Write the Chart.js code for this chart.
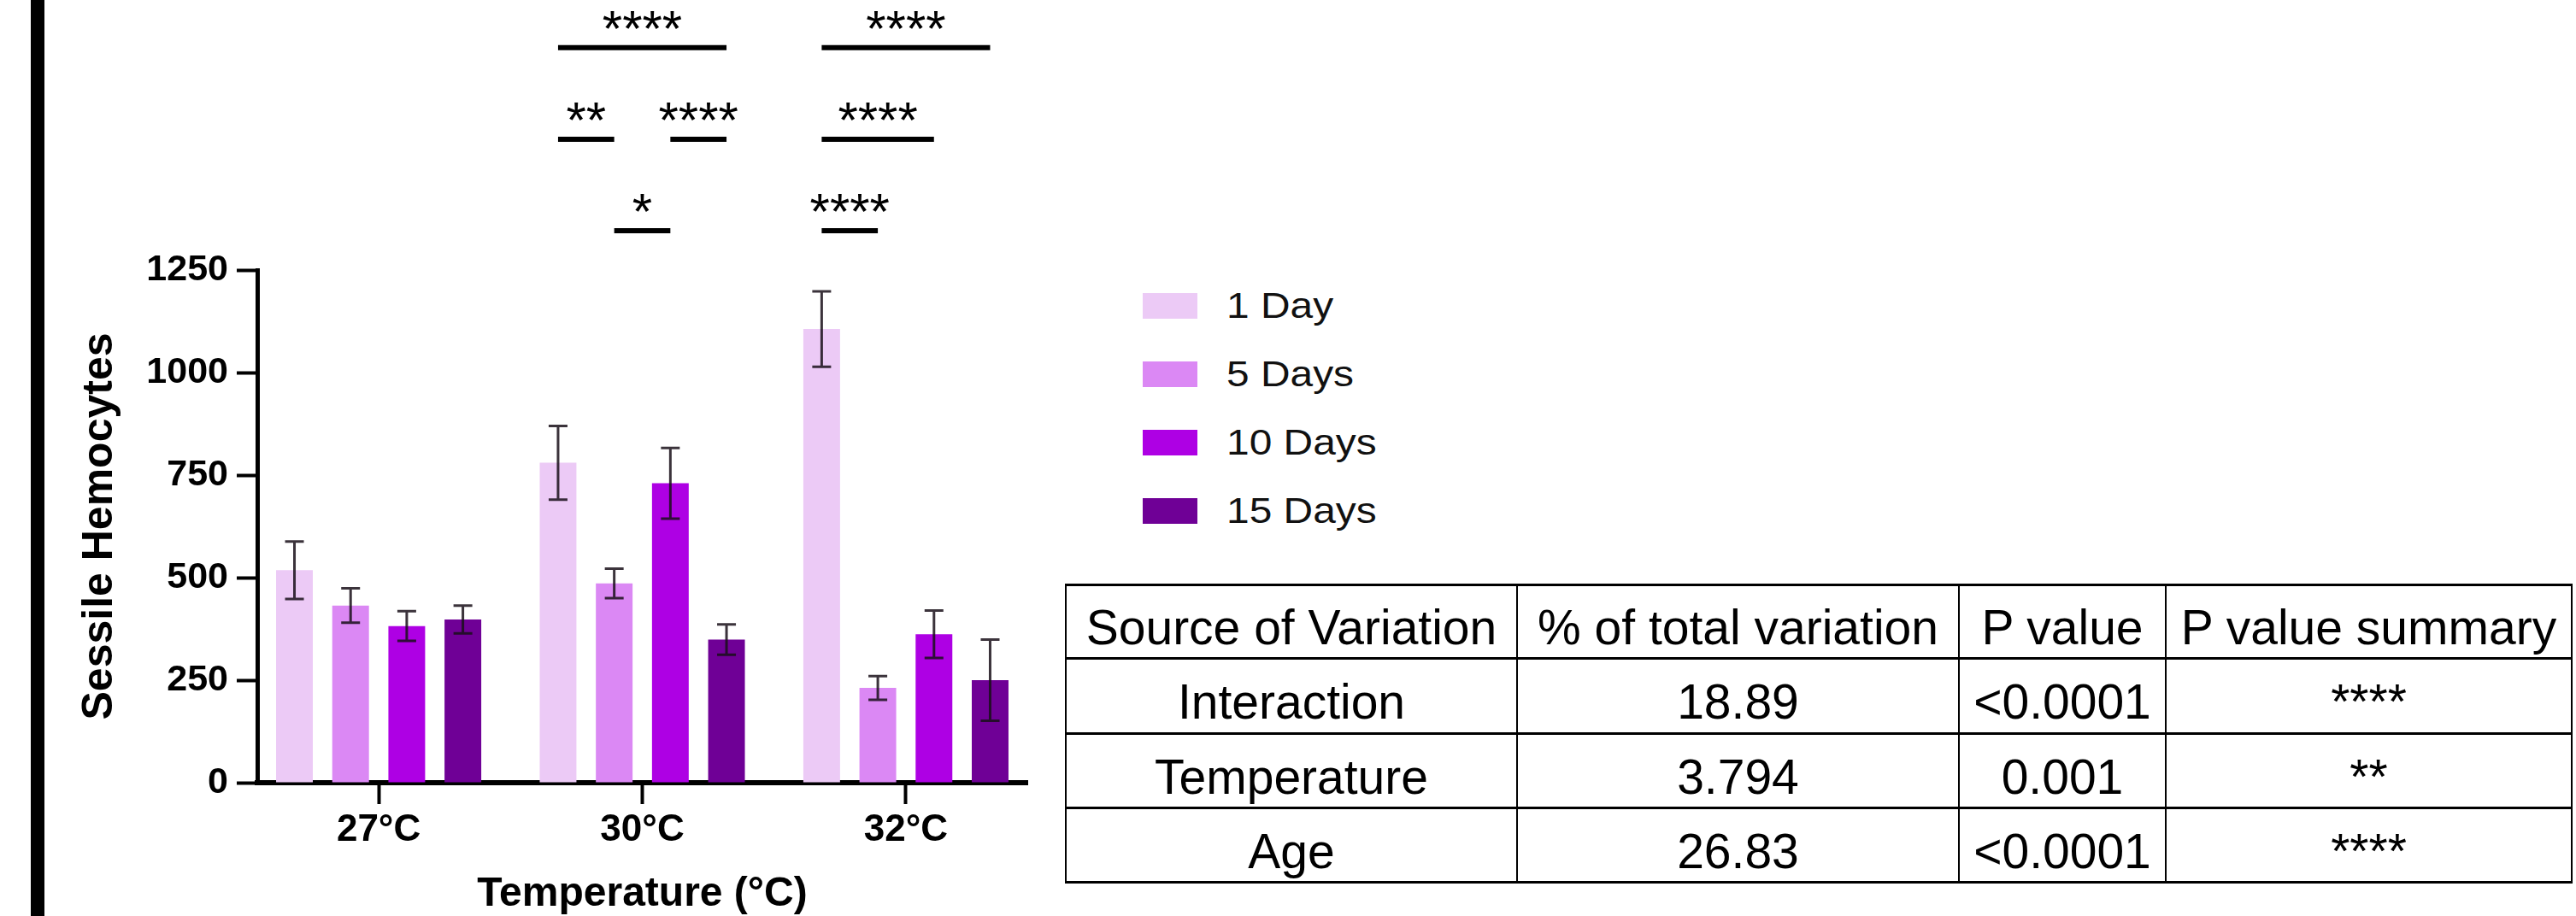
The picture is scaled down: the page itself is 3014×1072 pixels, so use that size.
<!DOCTYPE html>
<html>
<head>
<meta charset="utf-8">
<script src="https://cdn.jsdelivr.net/npm/chart.js@4.4.1/dist/chart.umd.min.js"></script>
<style>
  html, body { margin: 0; padding: 0; background: #fff; }
  body { width: 3014px; height: 1072px; position: relative; overflow: hidden; font-family: 'Liberation Sans', Arial, sans-serif; }
  #frame { position: absolute; left: 36px; top: 0; width: 16px; height: 1072px; background: #000; }
  #plot { position: absolute; left: 0; top: 0; }
  #legend { position: absolute; left: 1337px; top: 337px; }
  .item { display: flex; align-items: flex-start; height: 42px; margin-bottom: 38px; }
  .swatch { width: 64px; height: 30px; margin-top: 6px; margin-right: 34px; }
  .name { font-size: 42px; line-height: 42px; color: #111; transform: scaleX(1.14); transform-origin: left center; white-space: nowrap; }
  #anova { position: absolute; left: 1246px; top: 683px; border-collapse: collapse; table-layout: fixed; width: 1762px; }
  #anova td { border-left: 2px solid #000; border-right: 2px solid #000; border-top: 3px solid #000; border-bottom: 3px solid #000;
              font-size: 57px; color: #000; text-align: center; vertical-align: middle; padding: 14px 0 0 0; white-space: nowrap; line-height: 1; }
</style>
</head>
<body>
<div id="frame"></div>
<canvas id="plot" width="1250" height="1072"></canvas>
<div id="legend"></div>
<table id="anova">
  <colgroup><col style="width:528px"><col style="width:517px"><col style="width:242px"><col style="width:475px"></colgroup>
  <tbody id="anovaBody"></tbody>
</table>
<script>
const temperatures = ["27°C", "30°C", "32°C"];
const ageLabels = ["1 Day", "5 Days", "10 Days", "15 Days"];
const ageColors = ["#ECCAF6", "#DB88F4", "#AE00E4", "#6F0096"];
const yTicks = [0, 250, 500, 750, 1000, 1250];

// mean and SEM per temperature
const day1Mean = [518, 780, 1106];
const day1Err = [70, 90, 92];
const day5Mean = [432, 486, 231];
const day5Err = [42, 36, 29];
const day10Mean = [382, 730, 362];
const day10Err = [36, 86, 58];
const day15Mean = [398, 349, 250];
const day15Err = [34, 37, 99];

// [temperature index, from age, to age, label, bracket row]
const comparisons = [
  [1, 0, 3, "****", 2],
  [1, 0, 1, "**", 1],
  [1, 2, 3, "****", 1],
  [1, 1, 2, "*", 0],
  [2, 0, 3, "****", 2],
  [2, 0, 2, "****", 1],
  [2, 0, 1, "****", 0]
];

const tableHeaders = ["Source of Variation", "% of total variation", "P value", "P value summary"];
const sources = ["Interaction", "Temperature", "Age"];
const pctVariation = ["18.89", "3.794", "26.83"];
const pValues = ["<0.0001", "0.001", "<0.0001"];
const pSummary = ["****", "**", "****"];

const fontFamily = "'Liberation Sans', Arial, sans-serif";

// legend
const legend = document.getElementById("legend");
ageLabels.forEach((label, i) => {
    const item = document.createElement("div");
    item.className = "item";
    const swatch = document.createElement("div");
    swatch.className = "swatch";
    swatch.style.background = ageColors[i];
    const name = document.createElement("span");
    name.className = "name";
    name.textContent = label;
    item.appendChild(swatch);
    item.appendChild(name);
    legend.appendChild(item);
});

// table
const body = document.getElementById("anovaBody");
const rowHeights = [86, 88, 87, 87];
const rows = [tableHeaders].concat(sources.map((s, i) => [s, pctVariation[i], pValues[i], pSummary[i]]));
rows.forEach((cells, r) => {
    const tr = document.createElement("tr");
    tr.style.height = rowHeights[r] + "px";
    cells.forEach(text => {
        const td = document.createElement("td");
        td.textContent = text;
        tr.appendChild(td);
    });
    body.appendChild(tr);
});

const toPoints = values => values.map((v, i) => ({ x: i, y: v }));

const errorBars = {
    id: "errorBars",
    afterDatasetsDraw(chart) {
        const { ctx } = chart;
        const y = chart.scales.y;
        ctx.save();
        ctx.strokeStyle = "rgba(25,15,25,0.85)";
        ctx.lineWidth = 3;
        chart.data.datasets.forEach((ds, di) => {
            chart.getDatasetMeta(di).data.forEach((bar, i) => {
                const mean = ds.data[i].y;
                const err = ds.errors[i];
                const top = y.getPixelForValue(mean + err);
                const bottom = y.getPixelForValue(mean - err);
                const half = 11;
                ctx.beginPath();
                ctx.moveTo(bar.x, top);
                ctx.lineTo(bar.x, bottom);
                ctx.moveTo(bar.x - half, top);
                ctx.lineTo(bar.x + half, top);
                ctx.moveTo(bar.x - half, bottom);
                ctx.lineTo(bar.x + half, bottom);
                ctx.stroke();
            });
        });
        ctx.restore();
    }
};

const brackets = {
    id: "brackets",
    afterDraw(chart) {
        const { ctx } = chart;
        const y = chart.scales.y;
        ctx.save();
        ctx.strokeStyle = "#000";
        ctx.fillStyle = "#000";
        ctx.lineWidth = 6;
        ctx.font = "60px " + fontFamily;
        ctx.textAlign = "center";
        ctx.textBaseline = "alphabetic";
        comparisons.forEach(([g, a, b, label, row]) => {
            const x1 = chart.getDatasetMeta(a).data[g].x;
            const x2 = chart.getDatasetMeta(b).data[g].x;
            const py = y.getPixelForValue(1346 + 223 * row);
            ctx.beginPath();
            ctx.moveTo(x1, py);
            ctx.lineTo(x2, py);
            ctx.stroke();
            ctx.fillText(label, (x1 + x2) / 2, py - 2);
        });
        ctx.restore();
    }
};

const means = [day1Mean, day5Mean, day10Mean, day15Mean];
const errs = [day1Err, day5Err, day10Err, day15Err];

new Chart(document.getElementById("plot"), {
    type: "bar",
    data: {
        datasets: ageLabels.map((label, i) => ({
            label: label,
            data: toPoints(means[i]),
            errors: errs[i],
            backgroundColor: ageColors[i],
            borderWidth: 0,
            categoryPercentage: 0.852,
            barPercentage: 0.654
        }))
    },
    options: {
        responsive: false,
        devicePixelRatio: 1,
        animation: false,
        layout: { padding: { top: 316, right: 48, left: 0, bottom: 0 } },
        plugins: { legend: { display: false }, tooltip: { enabled: false } },
        scales: {
            x: {
                type: "linear",
                min: -0.4606,
                max: 2.4606,
                offset: false,
                z: 1,
                afterBuildTicks: s => { s.ticks = temperatures.map((_, i) => ({ value: i })); },
                afterFit: s => { s.height = 156; },
                ticks: {
                    callback: v => temperatures[v],
                    font: { family: fontFamily, size: 44, weight: "bold" },
                    color: "#000",
                    padding: 4,
                    maxRotation: 0,
                    autoSkip: false
                },
                grid: { offset: false, drawOnChartArea: false, tickLength: 25, tickWidth: 4, tickColor: "#000" },
                border: { display: true, color: "#000", width: 6 },
                title: {
                    display: true,
                    text: "Temperature (°C)",
                    font: { family: fontFamily, size: 48, weight: "bold" },
                    color: "#000",
                    padding: { top: 0, bottom: -4 }
                }
            },
            y: {
                min: yTicks[0],
                max: yTicks[yTicks.length - 1],
                afterBuildTicks: s => { s.ticks = yTicks.map(v => ({ value: v })); },
                afterFit: s => { s.width = 301; },
                ticks: {
                    callback: v => String(v),
                    font: { family: fontFamily, size: 43, weight: "bold" },
                    color: "#000",
                    padding: 10
                },
                grid: { drawOnChartArea: false, tickLength: 24, tickWidth: 4, tickColor: "#000" },
                border: { display: true, color: "#000", width: 5 },
                title: {
                    display: true,
                    text: "Sessile Hemocytes",
                    font: { family: fontFamily, size: 50, weight: "bold" },
                    color: "#000",
                    padding: { top: 87, bottom: 0 }
                }
            }
        }
    },
    plugins: [errorBars, brackets]
});
</script>
</body>
</html>
